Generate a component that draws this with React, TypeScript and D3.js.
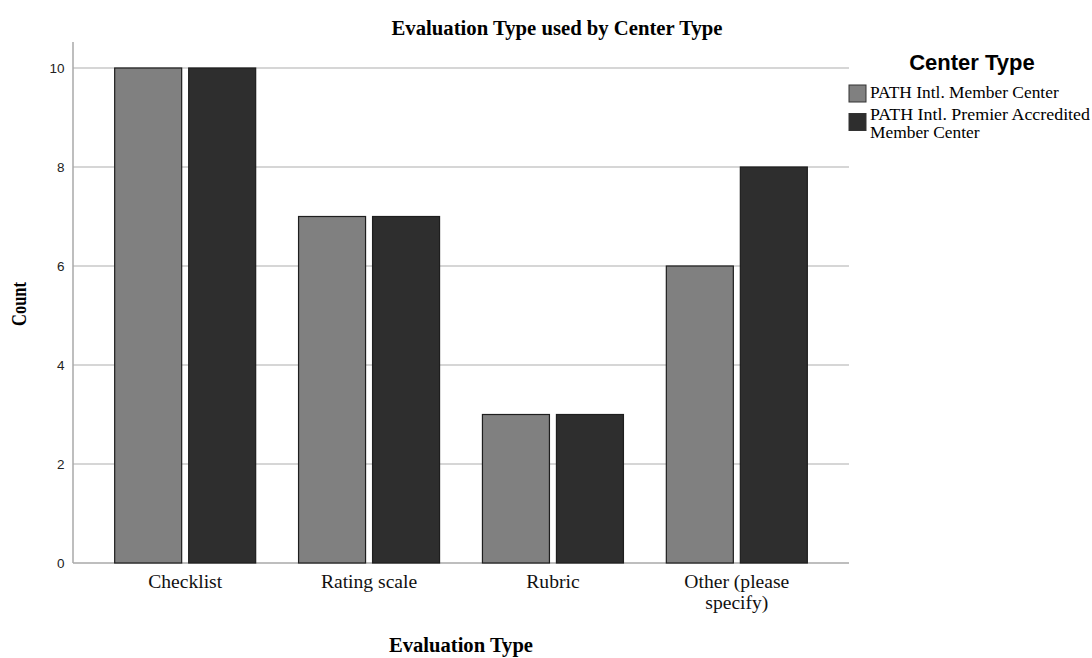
import React from "react";
import * as d3 from "d3";

const categories = ["Checklist", "Rating scale", "Rubric", "Other (please specify)"];
const categoryLines = [["Checklist"], ["Rating scale"], ["Rubric"], ["Other (please", "specify)"]];
const seriesNames = ["PATH Intl. Member Center", "PATH Intl. Premier Accredited Member Center"];
const memberValues = [10, 7, 3, 6];
const premierValues = [10, 7, 3, 8];
const yTicks = [0, 2, 4, 6, 8, 10];

const W = 1092, H = 658;
const left = 73, right = 849, top = 42, bottom = 563;
const colors = ["#808080", "#2e2e2e"];

export default function App() {
  const x = d3.scalePoint<string>().domain(categories).range([left, right]).padding(0.61);
  const y = d3.scaleLinear().domain([0, 10]).range([bottom, 68]);
  const barW = 67, gap = 7;
  const series = [memberValues, premierValues];
  return (
    <svg width={W} height={H} style={{ position: "absolute", left: 0, top: 0, background: "#fff" }}>
      <text x={557} y={35} textAnchor="middle" fontFamily="Liberation Serif" fontWeight="bold" fontSize={20.7}>Evaluation Type used by Center Type</text>
      {yTicks.filter(t => t > 0).map(t => (
        <line key={t} x1={left} x2={right} y1={y(t)} y2={y(t)} stroke="#c8c8c8" strokeWidth={1.5} />
      ))}
      <line x1={left} x2={left} y1={top} y2={bottom} stroke="#a8a8a8" strokeWidth={1.5} />
      <line x1={left} x2={right} y1={bottom} y2={bottom} stroke="#a8a8a8" strokeWidth={1.5} />
      {yTicks.map(t => (
        <text key={t} x={64.5} y={y(t) + 4.5} textAnchor="end" fontFamily="Liberation Sans" fontSize={13.5} fill="#222">{t}</text>
      ))}
      {categories.map((c, i) => (
        <g key={c}>
          {series.map((vals, s) => {
            const cx = x(c)!;
            const bx = s === 0 ? cx - gap / 2 - barW : cx + gap / 2;
            return (
              <rect key={s} x={bx} y={y(vals[i])} width={barW} height={bottom - y(vals[i])} fill={colors[s]} stroke="#1e1e1e" strokeWidth={1.2} />
            );
          })}
          {categoryLines[i].map((ln, k) => (
            <text key={k} x={x(c)!} y={588 + k * 20.5} textAnchor="middle" fontFamily="Liberation Serif" fontSize={19.6} fill="#111">{ln}</text>
          ))}
        </g>
      ))}
      <text transform={`translate(26,304) rotate(-90)`} textAnchor="middle" fontFamily="Liberation Serif" fontWeight="bold" fontSize={20.5} textLength={44} lengthAdjust="spacingAndGlyphs">Count</text>
      <text x={461} y={652} textAnchor="middle" fontFamily="Liberation Serif" fontWeight="bold" fontSize={20.6}>Evaluation Type</text>
      <text x={972} y={70} textAnchor="middle" fontFamily="Liberation Sans" fontWeight="bold" fontSize={22}>Center Type</text>
      {seriesNames.map((n, s) => (
        <rect key={n} x={849} y={85 + s * 28.5} width={17} height={17} fill={colors[s]} stroke="#333" strokeWidth={1} />
      ))}
      <text x={870} y={98} fontFamily="Liberation Serif" fontSize={17.4}>{seriesNames[0]}</text>
      <text x={870} y={119.5} fontFamily="Liberation Serif" fontSize={17.4} textLength={220} lengthAdjust="spacingAndGlyphs">PATH Intl. Premier Accredited</text>
      <text x={870} y={137.5} fontFamily="Liberation Serif" fontSize={17.4}>Member Center</text>
    </svg>
  );
}
